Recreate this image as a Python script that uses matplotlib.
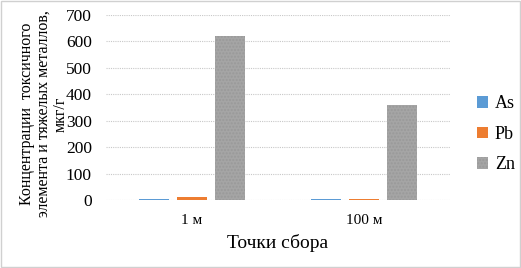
import numpy as np
from matplotlib import pyplot as plt

categories = ['1 м', '100 м']
series = ['As', 'Pb', 'Zn']
as_vals = [4, 4]
pb_vals = [12, 5]
zn_vals = [620, 360]
colors = ['#5b9bd5', '#ed7d31', '#a5a5a5']

plt.rcParams['font.family'] = ['Liberation Serif', 'DejaVu Serif']

fig = plt.figure(figsize=(5.21, 2.68), dpi=100)
ax = fig.add_axes([0.203, 0.254, 0.661, 0.69])

x = np.arange(len(categories))
width = 0.174
step = 0.221
for i, (name, vals) in enumerate(zip(series, [as_vals, pb_vals, zn_vals])):
    hatch = '.....' if name == 'Zn' else None
    ax.bar(x + (i - 1) * step, vals, width, color=colors[i], label=name,
           hatch=hatch, edgecolor='#999999' if hatch else colors[i], linewidth=0, zorder=3)

ax.set_xlim(-0.5, 1.5)
ax.set_ylim(0, 700)
ax.set_yticks(range(0, 701, 100))
ax.set_xticks(x)
ax.set_xticklabels(categories, fontsize=11)
ax.tick_params(axis='y', labelsize=12.5, length=0, pad=10)
ax.tick_params(axis='x', length=0, pad=10)
for s in ax.spines.values():
    s.set_visible(False)
ax.grid(axis='y', color='#c8c8c8', linestyle=(0, (1, 1)), linewidth=0.8, zorder=0)

ax.set_xlabel('Точки сбора', fontsize=14, labelpad=5)
fig.text(0.084, 0.575, 'Концентрации  токсичного\nэлемента и тяжелых металлов,\nмкг/г',
         rotation=90, ha='center', va='center', fontsize=11.5, linespacing=1.05)

ax.legend(loc='center left', bbox_to_anchor=(1.03, 0.355), frameon=False,
          fontsize=13, handlelength=0.6, handleheight=0.6, labelspacing=0.75, handletextpad=0.4)

fig.patches.append(plt.Rectangle((0.001, 0.002), 0.997, 0.996, transform=fig.transFigure,
                                 fill=False, edgecolor='#d0d0d0', linewidth=1))

fig.savefig('out.png', dpi=100)
